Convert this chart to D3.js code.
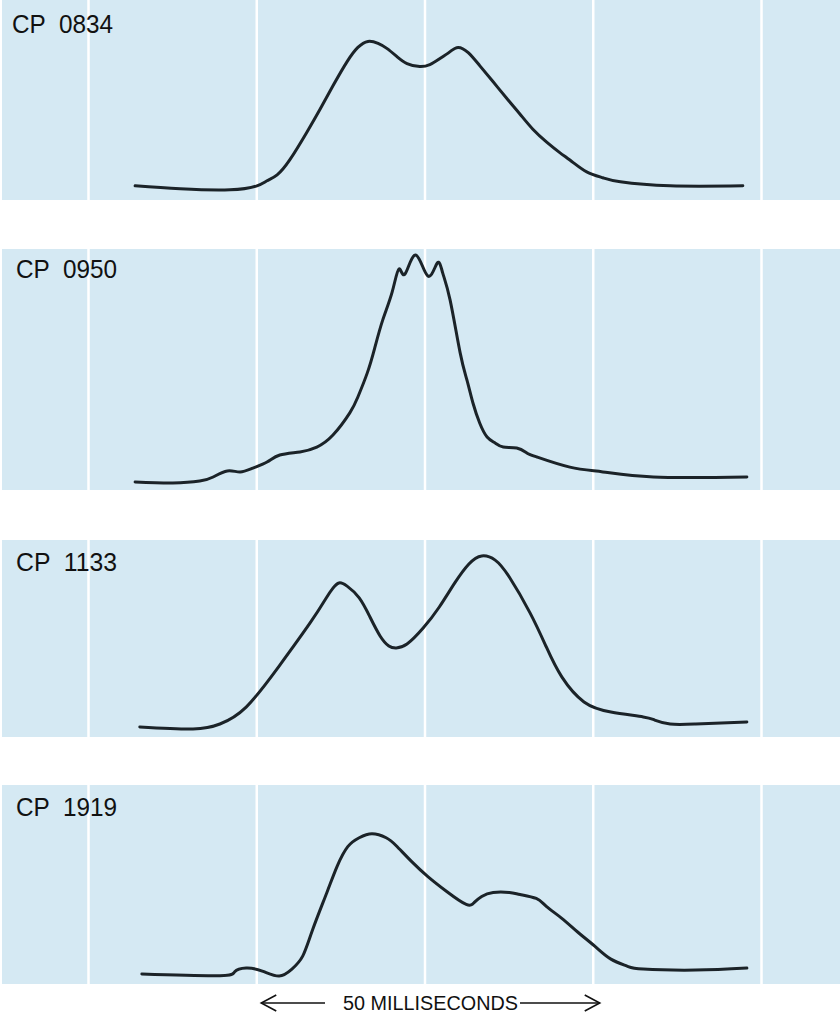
<!DOCTYPE html>
<html>
<head>
<meta charset="utf-8">
<script src="https://cdn.jsdelivr.net/npm/d3@7"></script>
<style>
  html, body { margin: 0; padding: 0; background: #fff; }
  svg { display: block; }
</style>
</head>
<body>
<svg id="chart" width="840" height="1015"></svg>
<script>
/******************** DATA ********************/
// pulse names, one per panel
var labels = ["CP 0834", "CP 0950", "CP 1133", "CP 1919"];

// white grid lines, every 25 ms
var gridTimes = [0, 25, 50, 75, 100];

// time (ms) / relative amplitude (0 = panel floor, 100 = panel top)
var t0834 = [7.0, 13.7, 21.1, 25.1, 26.6, 28.1, 30.0, 32.5, 34.5, 36.4, 38.5, 40.1, 41.6, 43.1, 44.4, 45.9, 47.4, 49.3, 50.8, 52.3, 53.8, 55.0, 56.5, 58.2, 60.2, 62.3, 64.2, 66.1, 68.2, 70.1, 72.1, 74.1, 76.5, 79.1, 86.5, 97.3];
var a0834 = [7.1, 5.6, 5.1, 7.1, 9.6, 12.6, 20.2, 33.8, 45.5, 57.1, 69.2, 76.3, 79.3, 78.3, 75.8, 71.7, 68.2, 66.7, 67.7, 70.7, 74.2, 76.3, 73.7, 67.2, 59.1, 50.5, 42.9, 35.4, 28.8, 23.7, 18.7, 14.1, 11.1, 9.1, 7.1, 7.1];

var t0950 = [7.0, 12.6, 16.6, 18.6, 20.7, 22.6, 24.5, 26.6, 28.5, 31.5, 34.0, 36.4, 38.9, 40.1, 41.5, 42.6, 43.8, 45.2, 46.2, 47.1, 48.7, 50.5, 51.9, 52.7, 53.8, 55.3, 56.3, 57.2, 58.2, 59.3, 60.5, 61.7, 63.7, 65.2, 66.7, 71.6, 76.5, 84.0, 97.9];
var a0950 = [3.3, 2.9, 3.7, 5.4, 7.9, 7.5, 9.1, 11.6, 14.5, 15.8, 17.8, 22.8, 32.0, 38.6, 48.6, 58.9, 70.6, 82.2, 91.7, 89.6, 97.5, 88.8, 94.2, 90.1, 78.9, 56.9, 45.7, 36.1, 27.8, 22.0, 19.5, 17.8, 17.4, 15.4, 13.7, 9.5, 7.5, 5.4, 5.4];

var t1133 = [7.7, 15.6, 19.6, 23.5, 28.4, 33.1, 35.4, 36.4, 37.3, 38.5, 40.3, 41.9, 43.4, 44.7, 45.8, 47.4, 49.8, 52.2, 54.5, 56.6, 58.5, 60.5, 62.6, 65.7, 68.1, 70.4, 73.7, 77.7, 82.5, 84.2, 86.5, 90.3, 97.9];
var a1133 = [5.1, 4.1, 6.6, 15.2, 36.0, 58.4, 70.6, 75.6, 78.2, 76.6, 70.6, 60.9, 51.3, 46.2, 45.2, 47.2, 55.3, 66.0, 78.2, 87.8, 91.9, 89.8, 81.2, 62.9, 45.7, 30.5, 17.8, 12.7, 10.2, 8.6, 6.6, 6.6, 7.6];

var t1919 = [8.0, 19.6, 21.8, 23.5, 25.9, 28.4, 30.3, 31.9, 33.4, 35.5, 37.0, 38.6, 40.3, 42.2, 44.3, 45.8, 48.1, 50.5, 53.3, 56.2, 57.4, 58.5, 60.2, 62.6, 64.2, 66.6, 68.1, 70.4, 72.8, 75.3, 77.7, 80.1, 82.5, 90.3, 97.9];
var a1919 = [5, 4.2, 6.2, 8, 6.5, 4, 7.5, 14, 27.5, 46, 59, 69, 73.5, 75.5, 73.5, 69.5, 61.5, 54, 46.5, 40, 41, 44, 46, 46, 45, 43, 39, 33, 26, 19, 12.5, 9, 7.5, 7, 8];

var times = [t0834, t0950, t1133, t1919];
var amps  = [a0834, a0950, a1133, a1919];

// scale bar
var barLabel = "50 MILLISECONDS";
var barTimes = [25, 75];

/******************** LAYOUT ********************/
var W = 840;
var panelTop    = [0, 249, 540, 785];
var panelBottom = [200, 490, 737, 984];
var labelBase   = [33, 278, 571, 816];

var BG = "#d5e9f3";
var INK = "#1b2328";

var svg = d3.select("#chart");

var x = d3.scaleLinear().domain([0, 100]).range([88, 761]);

// smooth pen trace through every read point (C2 spline, no corners)
var line = d3.line()
  .x(function(d) { return x(d[0]); })
  .y(function(d) { return d.y; })
  .curve(d3.curveNatural);

labels.forEach(function(label, i) {
  var y0 = panelTop[i], y1 = panelBottom[i];
  var g = svg.append("g");

  g.append("rect")
    .attr("x", 2).attr("y", y0)
    .attr("width", W - 2).attr("height", y1 - y0)
    .attr("fill", BG);

  // grid lines through an axis with full-height ticks
  var grid = g.append("g")
    .attr("transform", "translate(0," + y0 + ")")
    .call(d3.axisTop(x).tickValues(gridTimes).tickSize(-(y1 - y0)).tickFormat(""));
  grid.select(".domain").remove();
  grid.selectAll(".tick line").attr("stroke", "#ffffff").attr("stroke-width", 2.5);

  var y = d3.scaleLinear().domain([0, 100]).range([y1, y0]);
  var pts = times[i].map(function(t, k) {
    var p = [t, amps[i][k]];
    p.y = y(amps[i][k]);
    return p;
  });

  g.append("path")
    .attr("d", line(pts))
    .attr("fill", "none")
    .attr("stroke", INK)
    .attr("stroke-width", 3)
    .attr("stroke-linejoin", "round")
    .attr("stroke-linecap", "round");

  g.append("text")
    .attr("x", 12 + (i > 0 ? 4 : 0))
    .attr("y", labelBase[i])
    .attr("font-family", "'Liberation Sans', Arial, sans-serif")
    .attr("font-size", 26)
    .attr("fill", "#111")
    .style("white-space", "pre")
    .attr("textLength", 101)
    .attr("lengthAdjust", "spacingAndGlyphs")
    .text(label.replace(" ", "  "));
});

/******************** SCALE BAR ********************/
var by = 1003;
var xl = x(barTimes[0]) + 5, xr = x(barTimes[1]) + 7;
var head = 15, hh = 8;

svg.append("text")
  .attr("x", 343).attr("y", 1010)
  .attr("font-family", "'Liberation Sans Narrow', 'Liberation Sans', Arial, sans-serif")
  .attr("font-size", 20)
  .attr("fill", "#111")
  .attr("textLength", 175)
  .attr("lengthAdjust", "spacingAndGlyphs")
  .text(barLabel);

var arrows = svg.append("g")
  .attr("fill", "none").attr("stroke", "#111").attr("stroke-width", 1.6);
arrows.append("path").attr("d", "M" + xl + "," + by + "H325");
arrows.append("path").attr("d", "M" + (xl + head) + "," + (by - hh) + "L" + xl + "," + by + "L" + (xl + head) + "," + (by + hh));
arrows.append("path").attr("d", "M520," + by + "H" + xr);
arrows.append("path").attr("d", "M" + (xr - head) + "," + (by - hh) + "L" + xr + "," + by + "L" + (xr - head) + "," + (by + hh));
</script>
</body>
</html>
